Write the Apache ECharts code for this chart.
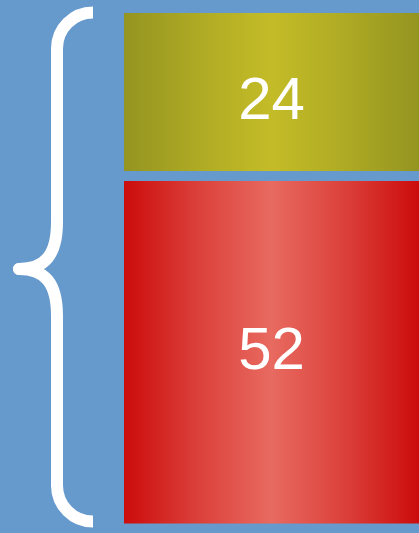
<!DOCTYPE html>
<html>
<head>
<meta charset="utf-8">
<style>
  html, body { margin: 0; padding: 0; background: #6699CC; }
  #chart { width: 419px; height: 533px; }
</style>
<script src="https://cdn.jsdelivr.net/npm/echarts@6/dist/echarts.min.js"></script>
</head>
<body>
<div id="chart"></div>
<script>
// data
const categories = [''];
const segmentValues = [52, 24];          // bottom to top
const segmentEdge = ['#CC0C0C', '#949421'];
const segmentMid = ['#E86A60', '#C4BC27'];

const GAP = 10; // space between stacked segments

// stack bases
const stackData = [];
let base = 0;
segmentValues.forEach(function (v, i) {
    stackData.push([0, base, v, i]);
    base += v;
});

const myChart = echarts.init(document.getElementById('chart'));

// brace pieces
const braceStyle = { stroke: '#FFFFFF', lineWidth: 12, fill: null, lineCap: 'butt' };
const tipStyle = { stroke: '#FFFFFF', lineWidth: 12, fill: null, lineCap: 'round' };

const option = {
    backgroundColor: '#6699CC',
    animation: false,
    grid: {
        left: 124,
        right: 0,
        top: 23,
        bottom: 9.5
    },
    xAxis: {
        type: 'category',
        data: categories,
        show: false
    },
    yAxis: {
        type: 'value',
        min: 0,
        max: base,
        show: false
    },
    graphic: [
        { type: 'arc', shape: { cx: 93, cy: 48.5, r: 36, startAngle: Math.PI, endAngle: Math.PI * 1.5, clockwise: true }, style: braceStyle },
        { type: 'line', shape: { x1: 57, y1: 47, x2: 57, y2: 223 }, style: braceStyle },
        { type: 'bezierCurve', shape: { x1: 57, y1: 222, cpx1: 57, cpy1: 255, cpx2: 45, cpy2: 269, x2: 19, y2: 269 }, style: tipStyle },
        { type: 'bezierCurve', shape: { x1: 19, y1: 269, cpx1: 45, cpy1: 269, cpx2: 57, cpy2: 283, x2: 57, y2: 316 }, style: tipStyle },
        { type: 'line', shape: { x1: 57, y1: 315, x2: 57, y2: 487 }, style: braceStyle },
        { type: 'arc', shape: { cx: 93, cy: 485.5, r: 36, startAngle: Math.PI * 0.5, endAngle: Math.PI, clockwise: true }, style: braceStyle }
    ],
    series: [
        {
            type: 'custom',
            clip: false,
            data: stackData,
            renderItem: function (params, api) {
                const idx = api.value(3);
                const b = api.value(1);
                const v = api.value(2);
                const p0 = api.coord([api.value(0), b]);
                const p1 = api.coord([api.value(0), b + v]);
                const w = api.size([1, 0])[0];
                const shift = -GAP * idx;
                const mid = echarts.color.lerp(0.55, [segmentEdge[idx], segmentMid[idx]]);
                return {
                    type: 'group',
                    children: [
                        {
                            type: 'rect',
                            shape: {
                                x: p0[0] - w / 2,
                                y: p1[1] + shift,
                                width: w,
                                height: p0[1] - p1[1]
                            },
                            style: {
                                fill: {
                                    type: 'linear',
                                    x: 0, y: 0, x2: 1, y2: 0,
                                    colorStops: [
                                        { offset: 0, color: segmentEdge[idx] },
                                        { offset: 0.25, color: mid },
                                        { offset: 0.5, color: segmentMid[idx] },
                                        { offset: 0.75, color: mid },
                                        { offset: 1, color: segmentEdge[idx] }
                                    ]
                                }
                            }
                        },
                        {
                            type: 'text',
                            style: {
                                text: String(v),
                                x: p0[0],
                                y: (p0[1] + p1[1]) / 2,
                                fill: '#FFFFFF',
                                font: '60px "Liberation Sans", Arial, sans-serif',
                                align: 'center',
                                verticalAlign: 'middle'
                            }
                        }
                    ]
                };
            }
        }
    ]
};

myChart.setOption(option);
</script>
</body>
</html>
